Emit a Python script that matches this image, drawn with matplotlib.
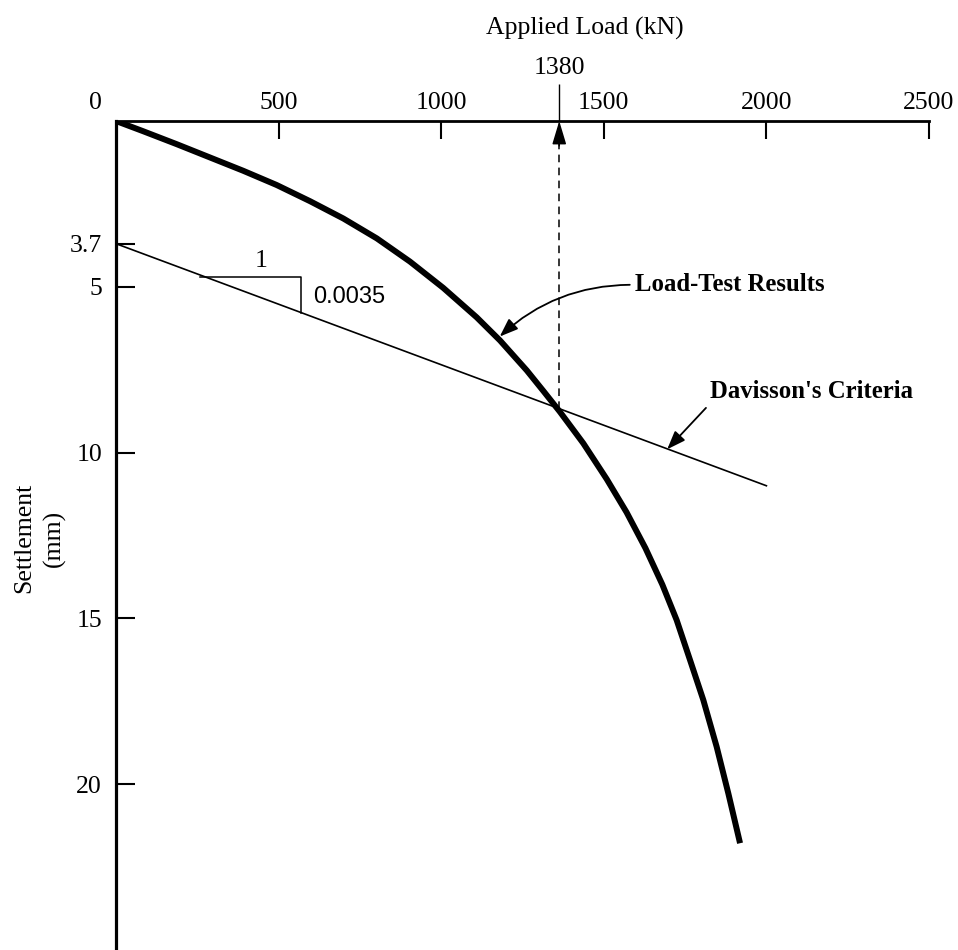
import matplotlib
matplotlib.use('Agg')
import matplotlib.pyplot as plt

# 荷载-沉降曲线
load_kn = [0, 84, 187, 289, 391, 494, 597, 699, 802, 904, 1006, 1109, 1181, 1263, 1314,
           1365, 1437, 1509, 1570, 1628, 1680, 1724, 1765, 1806, 1847, 1883, 1919]
settle_mm = [0, 0.31, 0.70, 1.10, 1.50, 1.93, 2.42, 2.94, 3.54, 4.24, 5.03, 5.92, 6.62, 7.52, 8.14,
             8.77, 9.72, 10.80, 11.80, 12.88, 13.98, 15.05, 16.25, 17.46, 18.87, 20.28, 21.78]

# Davisson 判据线
davisson_load = [0, 2000]
davisson_settle = [3.7, 11.0]

# 斜率三角形
tri_load = [258, 568, 568]
tri_settle = [4.71, 4.71, 5.78]

# 交点位置（图上虚线所在位置）及其标注
failure_x = 1363
failure_label = '1380'
failure_settle = 8.68

x_ticks = [500, 1000, 1500, 2000, 2500]
x_labels = ['500', '1000', '1500', '2000', '2500']
y_ticks = [3.7, 5, 10, 15, 20]
y_labels = ['3.7', '5', '10', '15', '20']

plt.rcParams['font.family'] = ['Liberation Serif', 'DejaVu Serif']
fs = 18.5
fs_bold = 17.8

fig = plt.figure(figsize=(9.58, 9.5), dpi=100)
ax = fig.add_axes([116 / 958, 0, 813 / 958, 829 / 950])
ax.set_xlim(0, 2500)
ax.set_ylim(25, 0)

for side in ['right', 'bottom']:
    ax.spines[side].set_visible(False)
ax.spines['top'].set_linewidth(2.0)
ax.spines['left'].set_linewidth(2.3)

ax.xaxis.tick_top()
ax.set_xticks(x_ticks)
ax.set_xticklabels(x_labels)
ax.set_xticks([failure_x], minor=True)
ax.set_xticklabels([failure_label], minor=True)
ax.set_yticks(y_ticks)
ax.set_yticklabels(y_labels)
ax.tick_params(axis='x', which='major', direction='in', length=13, width=1.5, pad=5, labelsize=fs)
ax.tick_params(axis='x', which='minor', direction='out', length=27, width=1.0, pad=3, labelsize=fs)
ax.tick_params(axis='y', which='major', direction='in', length=14, width=1.5, pad=10, labelsize=fs)

# 曲线
ax.plot(load_kn, settle_mm, color='black', lw=4.3, solid_joinstyle='round', solid_capstyle='butt')
ax.plot(davisson_load, davisson_settle, color='black', lw=1.2)
ax.plot(tri_load, tri_settle, color='black', lw=1.1)

# 1380 虚线及箭头
ax.plot([failure_x, failure_x], [failure_settle, 0.7], color='black', lw=1.1,
        ls=(0, (5, 3.5)))
ax.annotate('', xy=(failure_x, 0), xytext=(failure_x, 0.75), annotation_clip=False,
            arrowprops=dict(arrowstyle='-|>,head_length=0.9,head_width=0.27', color='black',
                            lw=1.1, shrinkA=0, shrinkB=0, mutation_scale=16))

# 文字
ax.annotate('0', xy=(0, 0), xytext=(-15, 13), textcoords='offset points',
            ha='center', va='center', fontsize=fs, annotation_clip=False)
ax.text(0.577, 1.112, 'Applied Load (kN)', transform=ax.transAxes,
        ha='center', va='center', fontsize=fs)
ax.text(-0.094, 0.497, 'Settlement\n(mm)', transform=ax.transAxes, rotation=90,
        ha='center', va='center', multialignment='center', fontsize=fs, linespacing=1.45)
ax.text(445, 4.55, '1', ha='center', va='bottom', fontsize=fs)
ax.text(606, 5.3, '0.0035', ha='left', va='center', fontsize=17,
        family=['Liberation Sans', 'DejaVu Sans'])

ax.annotate('Load-Test Results', xy=(1180, 6.5), xytext=(1597, 4.94),
            ha='left', va='center', fontsize=fs_bold, fontweight='bold',
            arrowprops=dict(arrowstyle='-|>,head_length=0.8,head_width=0.3', color='black',
                            lw=1.3, shrinkB=0, mutation_scale=14, relpos=(0, 0.5),
                            connectionstyle='arc3,rad=0.2'))
ax.annotate("Davisson's Criteria", xy=(1695, 9.9), xytext=(1828, 8.16),
            ha='left', va='center', fontsize=fs_bold, fontweight='bold',
            arrowprops=dict(arrowstyle='-|>,head_length=0.8,head_width=0.3', color='black',
                            lw=1.3, shrinkB=0, mutation_scale=14, relpos=(0, 0)))

fig.savefig('out.png', dpi=100)
